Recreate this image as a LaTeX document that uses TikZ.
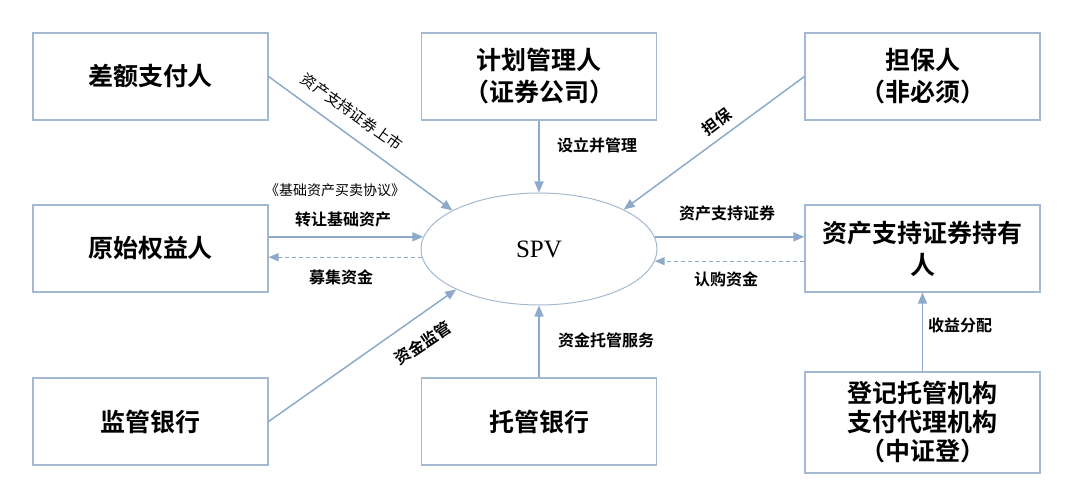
\documentclass[tikz,border=0pt]{standalone}
\usepackage{fontspec}
\setmainfont{Liberation Serif}
\newfontfamily\cjk{Noto Sans CJK SC}[BoldFont={Noto Sans CJK SC Bold}]
\usetikzlibrary{arrows.meta,positioning,shapes.geometric}
\definecolor{LineBlue}{HTML}{8DAACB}
\definecolor{BoxBlue}{HTML}{A3B8D1}

\begin{document}
\begin{tikzpicture}[x=1pt,y=-1pt,
  party/.style={draw=BoxBlue,line width=1.2pt,minimum width=235pt,minimum height=87pt,align=center,
    font=\cjk\bfseries\fontsize{25}{32}\selectfont},
  link/.style={-{Triangle[length=11pt,width=9pt]},line width=1.5pt,draw=LineBlue},
  back/.style={-{Triangle[length=10pt,width=8pt]},line width=1pt,draw=LineBlue,dash pattern=on 4pt off 3pt},
  tag/.style={font=\cjk\bfseries\fontsize{16}{19}\selectfont},
  note/.style={font=\cjk\fontsize{14}{17}\selectfont}
]
\useasboundingbox (0,0) rectangle (1080,500);
\node[party] (pay) at (150.5,76.5) {差额支付人};
\node[party] (mgr) at (539,76.5) {计划管理人\\（证券公司）};
\node[party] (guar) at (922.5,76.5) {担保人\\（非必须）};
\node[party] (orig) at (150.5,248.5) {原始权益人};
\node[party] (holder) at (922.5,248.5) {资产支持证券持有\\人};
\node[party] (sup) at (150.5,421.5) {监管银行};
\node[party] (cust) at (539,421.5) {托管银行};
\node[party,minimum height=101pt,font=\cjk\bfseries\fontsize{25}{29}\selectfont] (reg) at (922.5,422.5) {登记托管机构\\支付代理机构\\（中证登）};
\node[ellipse,draw=BoxBlue,line width=1pt,minimum width=236pt,minimum height=112pt,
  font=\fontsize{25}{28}\selectfont] (spv) at (539,249) {SPV};

\draw[link] (pay.east) -- (spv.156);
\draw[link] (mgr.south) -- (spv.north);
\draw[link] (guar.west) -- (spv.25);
\draw[link] (sup.east) -- (spv.206);
\draw[link] (cust.north) -- (spv.south);
\draw[link] (orig.east |- spv.174) -- (spv.174);
\draw[back] (spv.184.5) -- (orig.east |- spv.184.5);
\draw[link] (spv.6) -- (holder.west |- spv.6);
\draw[back] (holder.west |- spv.354) -- (spv.354);
\draw[link] (reg.north) -- (holder.south);

\node[note,font=\cjk\fontsize{15}{18}\selectfont,rotate=-35.4] (listing) at (352,112) {资产支持证券上市};
\node[note] (deal) at (335,190) {《基础资产买卖协议》};
\node[tag] (transfer) at (343,219) {转让基础资产};
\node[tag] (raise) at (341,277) {募集资金};
\node[tag] (setup) at (597,145) {设立并管理};
\node[tag,rotate=36.7] (guarantee) at (717,122) {担保};
\node[tag] (issue) at (727,213) {资产支持证券};
\node[tag] (subscribe) at (726,279) {认购资金};
\node[tag,rotate=34] (monitor) at (423,343) {资金监管};
\node[tag] (custody) at (606,340) {资金托管服务};
\node[tag] (payout) at (960,325) {收益分配};
\end{tikzpicture}
\end{document}
